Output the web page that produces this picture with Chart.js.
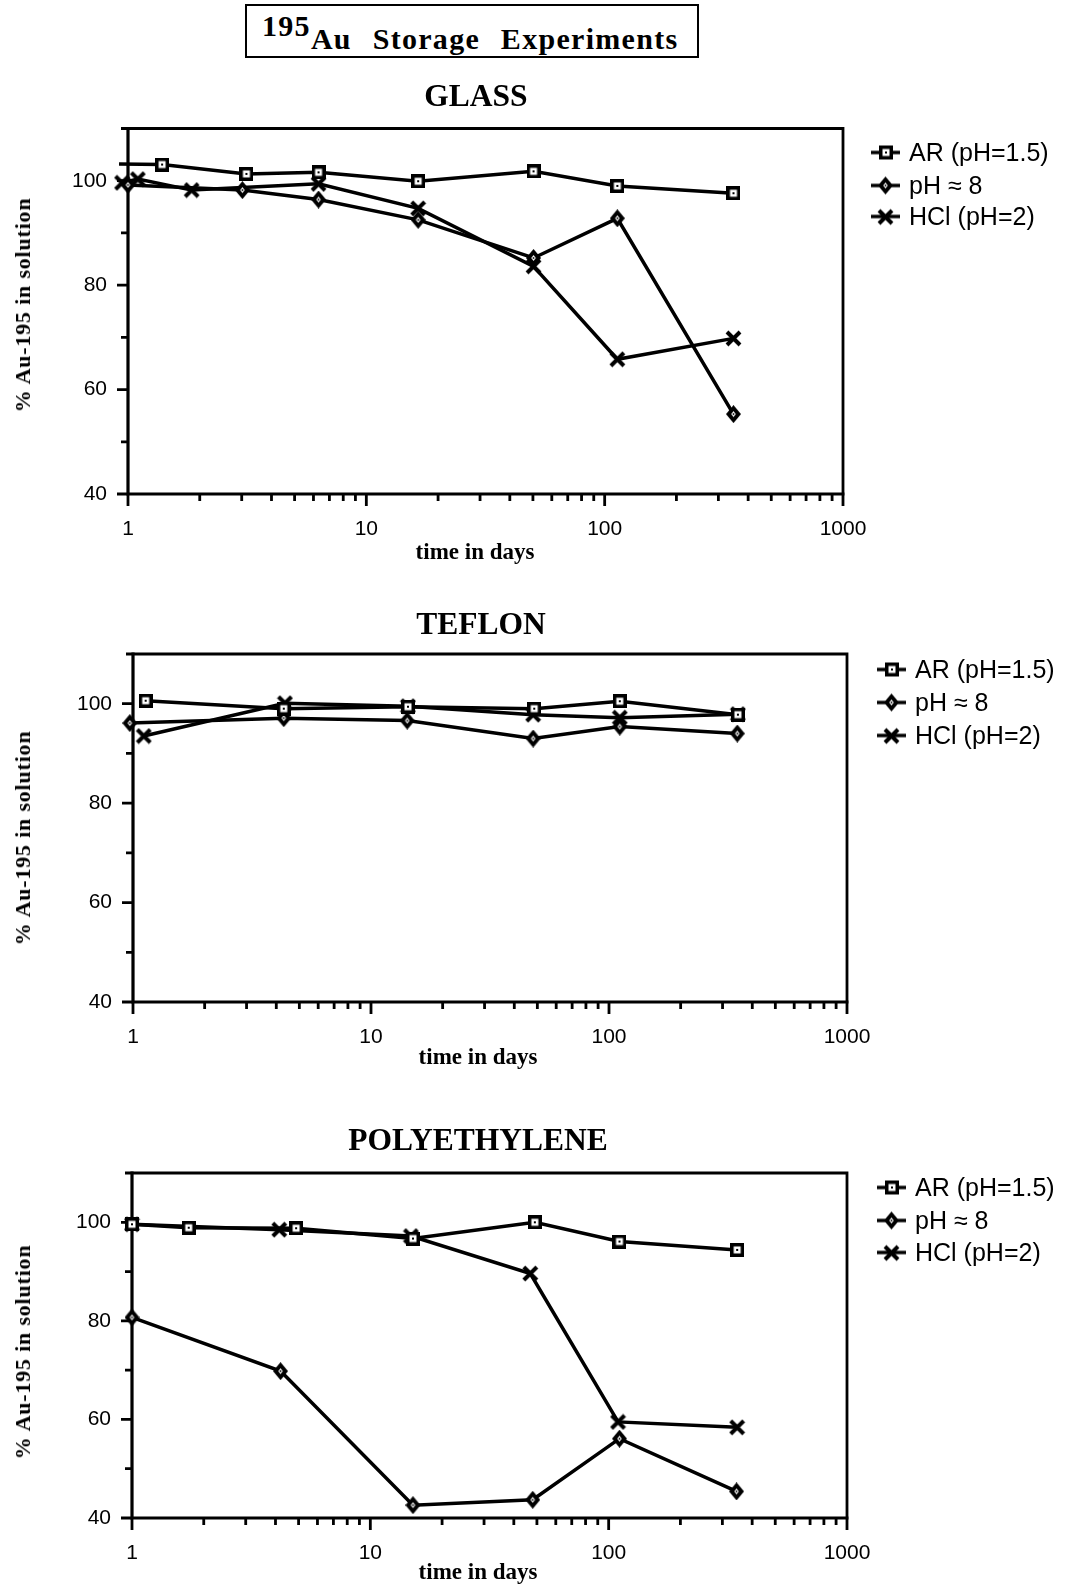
<!DOCTYPE html>
<html>
<head>
<meta charset="utf-8">
<title>195Au Storage Experiments</title>
<script src="https://cdn.jsdelivr.net/npm/chart.js@4.4.1/dist/chart.umd.min.js"></script>
<style>
  html, body { margin: 0; padding: 0; background: #fff; }
  body { width: 1065px; height: 1585px; position: relative; overflow: hidden;
         font-family: "Liberation Serif", "Times New Roman", serif; color: #000; }
  canvas.panel { position: absolute; left: 0; }
  #title { position: absolute; left: 245px; top: 4px; width: 450px; height: 50px;
           border: 2px solid #000; box-sizing: content-box; }
  #title .txt { position: absolute; left: 15px; top: 18px; font-weight: bold; font-size: 30px;
                line-height: 30px; white-space: nowrap; word-spacing: 12px; letter-spacing: 1.3px; }
  #title .iso { position: relative; top: -13px; word-spacing: 0; }
  .sub { position: absolute; font-weight: bold; font-size: 31.5px; white-space: nowrap;
         transform: translate(-50%, -50%); line-height: 1; }
  .ytitle { position: absolute; font-weight: bold; font-size: 22px; white-space: nowrap;
            transform: translate(-50%, -50%) rotate(-90deg); line-height: 1; letter-spacing: 0.8px; }
  .xtitle { position: absolute; font-weight: bold; font-size: 23px; white-space: nowrap;
            transform: translate(-50%, -50%); line-height: 1; }
  .legend { position: absolute; font-family: "Liberation Sans", Arial, sans-serif; font-size: 25px; }
  .legend .item { position: absolute; left: 0; display: flex; align-items: center; white-space: nowrap;
                  transform: translateY(-50%); }
  .legend canvas { margin-right: 9px; }
</style>
</head>
<body>
<div id="title"><div class="txt"><span class="iso">195</span>Au Storage Experiments</div></div>

<script>
// ---- data: days of storage and % Au-195 remaining in solution ----
const seriesNames = ['AR (pH=1.5)', 'pH \u2248 8', 'HCl (pH=2)'];

const glassArDays  = [0.917, 1.39, 3.14, 6.3, 16.5, 50.3, 113, 347];
const glassArPct   = [103.2, 103.1, 101.3, 101.6, 99.9, 101.8, 99.0, 97.6];
const glassPh8Days = [1, 3.02, 6.3, 16.5, 50.3, 113, 347];
const glassPh8Pct  = [99.2, 98.2, 96.4, 92.5, 85.2, 92.8, 55.3];
const glassHclDays = [0.944, 1.1, 1.85, 6.3, 16.5, 50.3, 113, 347];
const glassHclPct  = [99.6, 100.3, 98.2, 99.4, 94.7, 83.6, 65.8, 69.8];

const teflonArDays  = [1.13, 4.3, 14.3, 48.5, 111, 348];
const teflonArPct   = [100.6, 99.0, 99.4, 99.0, 100.5, 97.8];
const teflonPh8Days = [0.97, 4.3, 14.2, 48, 111, 346];
const teflonPh8Pct  = [96.1, 97.1, 96.6, 93.0, 95.4, 94.0];
const teflonHclDays = [1.11, 4.35, 14.3, 48, 111, 348];
const teflonHclPct  = [93.5, 100.1, 99.5, 97.8, 97.2, 97.9];

const polyArDays  = [1, 1.73, 4.88, 15.1, 49, 111, 346];
const polyArPct   = [99.6, 98.9, 98.8, 96.7, 100.0, 96.1, 94.4];
const polyPh8Days = [1, 4.2, 15.1, 48, 111, 344];
const polyPh8Pct  = [80.7, 69.8, 42.6, 43.7, 56.1, 45.4];
const polyHclDays = [1, 4.15, 14.8, 46.9, 109.5, 346];
const polyHclPct  = [99.6, 98.5, 97.2, 89.6, 59.5, 58.4];

// ---- axes ----
const xTickValues = [1, 2, 3, 4, 5, 6, 7, 8, 9, 10, 20, 30, 40, 50, 60, 70, 80, 90,
                     100, 200, 300, 400, 500, 600, 700, 800, 900, 1000];
const xTickLabels = ['1', '10', '100', '1000'];
const yTickLabels = [40, 60, 80, 100];
const yMin = 40, yMax = 110, yStep = 10;
const xMin = 1, xMax = 1000;

// ---- marker images ----
function makeSquare() {
  const c = document.createElement('canvas'); c.width = 14; c.height = 14;
  const g = c.getContext('2d');
  g.fillStyle = '#000'; g.fillRect(0, 0, 14, 14);
  g.fillStyle = '#fff'; g.fillRect(3.5, 3.5, 7, 7);
  g.fillStyle = '#000'; g.fillRect(6, 6, 2, 2);
  return c;
}
function makeDiamond() {
  const c = document.createElement('canvas'); c.width = 15; c.height = 18;
  const g = c.getContext('2d');
  const dia = (hw, hh) => { g.beginPath(); g.moveTo(7.5, 9 - hh); g.lineTo(7.5 + hw, 9);
                            g.lineTo(7.5, 9 + hh); g.lineTo(7.5 - hw, 9); g.closePath(); g.fill(); };
  g.fillStyle = '#000'; dia(7.5, 9);
  g.fillStyle = '#fff'; dia(2.3, 3.1);
  g.fillStyle = '#000'; g.fillRect(6.7, 8.2, 1.6, 1.6);
  return c;
}
function makeCross() {
  const c = document.createElement('canvas'); c.width = 17; c.height = 17;
  const g = c.getContext('2d');
  g.strokeStyle = '#000'; g.lineWidth = 4; g.lineCap = 'butt';
  g.beginPath(); g.moveTo(2, 2); g.lineTo(15, 15); g.moveTo(15, 2); g.lineTo(2, 15); g.stroke();
  return c;
}
const markerImages = [makeSquare(), makeDiamond(), makeCross()];

// ---- frame + tick marks drawn from the scales ----
const framePlugin = {
  id: 'frame',
  beforeDatasetsDraw(chart) {
    const { ctx, chartArea: a, scales: { x, y } } = chart;
    ctx.save();
    ctx.strokeStyle = '#000';
    ctx.lineCap = 'butt';
    ctx.lineWidth = 2.8;
    ctx.beginPath();
    ctx.moveTo(a.left, a.top); ctx.lineTo(a.right, a.top); ctx.lineTo(a.right, a.bottom);
    ctx.stroke();
    ctx.lineWidth = 3.2;
    ctx.beginPath();
    ctx.moveTo(a.left, a.top - 1.4); ctx.lineTo(a.left, a.bottom); ctx.lineTo(a.right + 1.4, a.bottom);
    ctx.stroke();
    ctx.lineWidth = 2.8;
    ctx.beginPath();
    y.ticks.forEach(t => {
      const py = y.getPixelForValue(t.value);
      const len = yTickLabels.includes(t.value) ? 11 : 7;
      ctx.moveTo(a.left - len, py); ctx.lineTo(a.left, py);
    });
    x.ticks.forEach(t => {
      const px = x.getPixelForValue(t.value);
      const len = xTickLabels.includes(String(t.value)) ? 12 : 7;
      ctx.moveTo(px, a.bottom); ctx.lineTo(px, a.bottom + len);
    });
    ctx.stroke();
    ctx.restore();
  }
};

// ---- panel layout ----
const panels = [
  { name: 'GLASS', data: [[glassArDays, glassArPct], [glassPh8Days, glassPh8Pct], [glassHclDays, glassHclPct]],
    top: 100, height: 470, area: { l: 128, r: 843, t: 128.5, b: 494 },
    sub: [476, 96], ytitle: [23, 305], xtitle: [475, 551], legend: { x: 871, ys: [152, 185, 216] } },
  { name: 'TEFLON', data: [[teflonArDays, teflonArPct], [teflonPh8Days, teflonPh8Pct], [teflonHclDays, teflonHclPct]],
    top: 630, height: 440, area: { l: 133, r: 847, t: 654, b: 1002 },
    sub: [481, 624], ytitle: [23, 838], xtitle: [478, 1056], legend: { x: 877, ys: [669, 702, 735] } },
  { name: 'POLYETHYLENE', data: [[polyArDays, polyArPct], [polyPh8Days, polyPh8Pct], [polyHclDays, polyHclPct]],
    top: 1150, height: 435, area: { l: 132, r: 847, t: 1173, b: 1518 },
    sub: [478, 1140], ytitle: [23, 1352], xtitle: [478, 1571], legend: { x: 877, ys: [1187, 1220, 1252] } }
];

const tickFont = { family: '"Liberation Sans", Arial, sans-serif', size: 21 };

function addText(cls, text, pos) {
  const d = document.createElement('div');
  d.className = cls; d.textContent = text;
  d.style.left = pos[0] + 'px'; d.style.top = pos[1] + 'px';
  document.body.appendChild(d);
}

function legendIcon(img) {
  const c = document.createElement('canvas'); c.width = 29; c.height = 18;
  const g = c.getContext('2d');
  g.fillStyle = '#000'; g.fillRect(0, 7.3, 29, 3.4);
  g.drawImage(img, Math.round(14.5 - img.width / 2), Math.round(9 - img.height / 2));
  return c;
}

panels.forEach(p => {
  const cv = document.createElement('canvas');
  cv.className = 'panel';
  cv.width = 1065; cv.height = p.height;
  cv.style.top = p.top + 'px';
  document.body.appendChild(cv);

  const datasets = p.data.map((s, i) => ({
    label: seriesNames[i],
    data: s[0].map((d, k) => ({ x: d, y: s[1][k] })),
    borderColor: '#000',
    borderWidth: 3.5,
    tension: 0,
    pointStyle: markerImages[i],
    pointRadius: 7,
    pointBorderWidth: 1,
    pointHoverRadius: 7,
    clip: false
  }));

  new Chart(cv, {
    type: 'line',
    data: { datasets },
    options: {
      responsive: false,
      animation: false,
      events: [],
      layout: { padding: { left: 0, top: p.area.t - p.top, right: 1065 - p.area.r, bottom: 0 } },
      plugins: { legend: { display: false }, tooltip: { enabled: false }, title: { display: false } },
      scales: {
        x: {
          type: 'logarithmic', min: xMin, max: xMax,
          grid: { display: false, drawTicks: false }, border: { display: false },
          afterBuildTicks: s => { s.ticks = xTickValues.map(v => ({ value: v })); },
          afterFit: s => { s.height = p.top + p.height - p.area.b; s.paddingLeft = 0; s.paddingRight = 0; },
          ticks: { autoSkip: false, maxRotation: 0, minRotation: 0, padding: 23, color: '#000', font: tickFont,
                   callback: v => (xTickLabels.includes(String(v)) ? String(v) : '') }
        },
        y: {
          type: 'linear', min: yMin, max: yMax,
          grid: { display: false, drawTicks: false }, border: { display: false },
          afterFit: s => { s.width = p.area.l; s.paddingTop = 0; s.paddingBottom = 0; },
          ticks: { stepSize: yStep, autoSkip: false, padding: 21, color: '#000', font: tickFont,
                   callback: v => (yTickLabels.includes(v) ? String(v) : '') }
        }
      }
    },
    plugins: [framePlugin]
  });

  addText('sub', p.name, p.sub);
  addText('ytitle', '% Au-195 in solution', p.ytitle);
  addText('xtitle', 'time in days', p.xtitle);

  const lg = document.createElement('div');
  lg.className = 'legend';
  lg.style.left = p.legend.x + 'px'; lg.style.top = '0px';
  seriesNames.forEach((n, i) => {
    const it = document.createElement('div');
    it.className = 'item';
    it.style.top = p.legend.ys[i] + 'px';
    it.appendChild(legendIcon(markerImages[i]));
    const t = document.createElement('span'); t.textContent = n;
    it.appendChild(t);
    lg.appendChild(it);
  });
  document.body.appendChild(lg);
});
</script>
</body>
</html>
